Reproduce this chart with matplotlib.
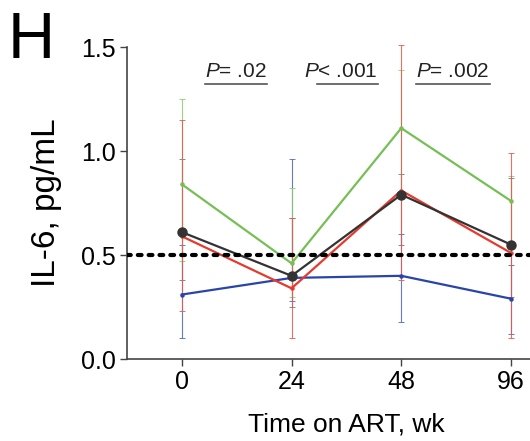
import matplotlib
matplotlib.use('Agg')
import matplotlib.pyplot as plt
import numpy as np

# -------------------------------
# Data
# -------------------------------
weeks = ['0', '24', '48', '96']

green_mean = [0.84, 0.46, 1.11, 0.76]
green_lo = [0.47, 0.30, 0.78, 0.55]
green_hi = [1.25, 0.82, 1.39, 0.88]

red_mean = [0.59, 0.34, 0.81, 0.51]
red_lo = [0.23, 0.10, 0.38, 0.10]
red_hi = [1.15, 0.68, 1.51, 0.99]

black_mean = [0.61, 0.40, 0.79, 0.55]
black_lo = [0.38, 0.25, 0.55, 0.30]
black_hi = [0.96, 0.68, 0.89, 0.87]

blue_mean = [0.31, 0.39, 0.40, 0.29]
blue_lo = [0.10, 0.28, 0.18, 0.12]
blue_hi = [0.55, 0.96, 0.60, 0.45]

p_labels = ['= .02', '< .001', '= .002']
reference_level = 0.5

plt.rcParams['font.family'] = ['Liberation Sans', 'DejaVu Sans']
plt.rcParams['mathtext.fontset'] = 'custom'
plt.rcParams['mathtext.it'] = 'Liberation Sans:italic'
plt.rcParams['mathtext.rm'] = 'Liberation Sans'

fig = plt.figure(figsize=(5.3, 4.41), dpi=100)
# axis runs past the right edge, like the cropped panel
ax = fig.add_axes([0.2396, 0.1859, 0.828, 0.7075])

x = np.arange(len(weeks))

# error bars first (black, blue, green, red so red sits on top), lines after
bar_order = [
    (black_mean, black_lo, black_hi, '#777777'),
    (blue_mean, blue_lo, blue_hi, '#4a64bb'),
    (green_mean, green_lo, green_hi, '#8ccb6c'),
    (red_mean, red_lo, red_hi, '#e6574c'),
]
for mean, lo, hi, color in bar_order:
    mean = np.array(mean)
    yerr = [mean - np.array(lo), np.array(hi) - mean]
    ax.errorbar(x, mean, yerr=yerr, fmt='none', ecolor=color, elinewidth=0.8,
                capsize=2, capthick=0.7, alpha=0.85, clip_on=False, zorder=2)

line_order = [
    (blue_mean, '#2a45a8', 2.2),
    (green_mean, '#76bf55', 2.2),
    (red_mean, '#e63a2e', 2.2),
    (black_mean, '#333333', 6.5),
]
for mean, color, ms in line_order:
    ax.plot(x, mean, color=color, lw=1.6, marker='o', markersize=ms,
            clip_on=False, zorder=3)

ax.axhline(reference_level, color='black', lw=3, dashes=(0.9, 1.7),
           dash_capstyle='round', zorder=5)

ax.set_xlim(-0.5, 3.5)
ax.set_ylim(0, 1.5)
ax.set_xticks(x)
ax.set_xticklabels(weeks)
ax.set_yticks([0, 0.5, 1.0, 1.5])
ax.set_yticklabels(['0.0', '0.5', '1.0', '1.5'])
ax.tick_params(labelsize=18, length=5, width=1, color='#444444', pad=3)
for side in ['top', 'right']:
    ax.spines[side].set_visible(False)
for side in ['left', 'bottom']:
    ax.spines[side].set_color('#444444')
    ax.spines[side].set_linewidth(1.2)

ax.set_xlabel('Time on ART, wk', fontsize=19, labelpad=13)
ax.set_ylabel('IL-6, pg/mL', fontsize=24, labelpad=14)

# P-values between consecutive time points, underlined
p_x = [0.49, 1.45, 2.47]
for px, lab in zip(p_x, p_labels):
    ax.text(px, 1.355, r'$\it{P}$' + lab, fontsize=15,
            ha='center', va='baseline', color='#222222')

fig.canvas.draw()
renderer = fig.canvas.get_renderer()
inv = ax.transData.inverted()
for i, t in enumerate(ax.texts):
    bb = t.get_window_extent(renderer)
    x0, y0 = inv.transform((bb.x0, bb.y0))
    x1, _ = inv.transform((bb.x1, bb.y0))
    if i == 1:
        x0 = x0 + (x1 - x0) * 0.17
    ax.plot([x0, x1], [y0 - 0.012, y0 - 0.012], color='#555555', lw=1.2)

fig.text(0.015, 0.975, 'H', fontsize=47, va='top', ha='left')

fig.savefig('out.png', dpi=100)
